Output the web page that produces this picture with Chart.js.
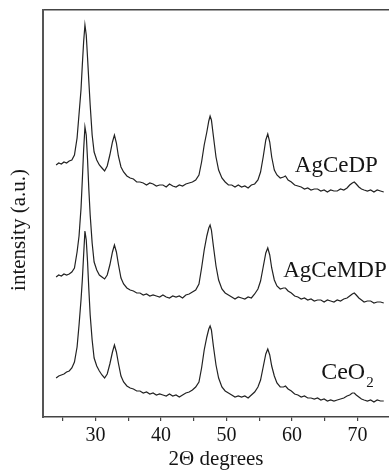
<!DOCTYPE html>
<html>
<head>
<meta charset="utf-8">
<script src="https://cdn.jsdelivr.net/npm/chart.js@4.4.1/dist/chart.umd.min.js"></script>
<style>
  html, body { margin: 0; padding: 0; background: #fff; }
  #wrap { width: 389px; height: 472px; position: relative; }
</style>
</head>
<body>
<div id="wrap"><canvas id="xrd"></canvas></div>
<script>
// 2-theta positions shared by all three patterns
const twoTheta = [
  24.0, 24.4, 24.8, 25.2, 25.6, 26.0, 26.4, 26.8, 27.2, 27.5,
  27.8, 28.0, 28.2, 28.4, 28.6, 28.8, 29.0, 29.2, 29.5, 29.8,
  30.2, 30.6, 31.0, 31.4, 31.8, 32.2, 32.6, 32.9, 33.2, 33.5,
  33.9, 34.3, 34.8, 35.3, 35.8, 36.3, 36.8, 37.3, 37.8, 38.3,
  38.8, 39.3, 39.8, 40.3, 40.8, 41.3, 41.8, 42.3, 42.8, 43.3,
  43.8, 44.3, 44.8, 45.3, 45.8, 46.2, 46.6, 47.0, 47.3, 47.5,
  47.7, 48.0, 48.4, 48.8, 49.3, 49.8, 50.3, 50.8, 51.3, 51.8,
  52.3, 52.8, 53.3, 53.8, 54.3, 54.8, 55.2, 55.6, 56.0, 56.3,
  56.6, 56.9, 57.3, 57.7, 58.2, 58.7, 59.0, 59.4, 59.9, 60.4,
  60.9, 61.4, 61.9, 62.4, 62.9, 63.4, 63.9, 64.4, 64.9, 65.4,
  65.9, 66.4, 66.9, 67.4, 67.9, 68.4, 68.8, 69.2, 69.5, 69.8,
  70.2, 70.6, 71.0, 71.5, 72.0, 72.5, 73.0, 73.5, 74.0,
];

// intensities (a.u.), already stacked with their offsets
const agCeDP = [
  252, 254, 253, 255, 254, 256, 257, 262, 279, 303,
  327, 352, 375, 392, 382, 359, 335, 312, 282, 265,
  257, 252, 249, 246, 251, 262, 275, 282, 274, 261,
  250, 245, 241, 239, 238, 235, 235, 234, 232, 234,
  233, 231, 232, 232, 230, 233, 231, 230, 232, 231,
  233, 234, 235, 237, 242, 255, 272, 285, 296, 301,
  297, 281, 260, 247, 239, 235, 232, 232, 230, 232,
  230, 231, 229, 232, 233, 237, 245, 260, 277, 283,
  275, 260, 247, 242, 239, 240, 241, 237, 235, 232,
  231, 230, 228, 229, 227, 228, 228, 226, 227, 225,
  227, 226, 226, 228, 227, 229, 232, 234, 235, 233,
  230, 228, 227, 226, 227, 225, 227, 226, 225,
];

const agCeMDP = [
  140, 142, 141, 143, 142, 143, 145, 149, 165, 181,
  209, 237, 267, 290, 282, 257, 227, 202, 174, 155,
  147, 142, 140, 138, 142, 152, 165, 172, 165, 153,
  139, 133, 129, 127, 126, 124, 124, 122, 123, 121,
  122, 121, 120, 122, 120, 119, 121, 120, 121, 119,
  122, 123, 125, 127, 133, 149, 167, 181, 189, 192,
  187, 171, 151, 137, 128, 124, 122, 120, 118, 120,
  119, 118, 120, 119, 123, 128, 136, 150, 164, 169,
  162, 149, 137, 131, 128, 129, 129, 126, 124, 121,
  120, 118, 119, 117, 118, 116, 117, 117, 115, 117,
  116, 115, 117, 116, 118, 119, 121, 123, 124, 122,
  119, 117, 115, 116, 116, 114, 115, 115, 114,
];

const ceO2 = [
  39, 41, 42, 43, 45, 46, 49, 55, 70, 92,
  117, 137, 162, 186, 177, 155, 127, 102, 77, 59,
  51, 46, 42, 39, 43, 53, 65, 72, 65, 54,
  41, 35, 31, 29, 28, 26, 26, 24, 25, 23,
  24, 22, 23, 22, 21, 23, 21, 22, 20, 22,
  24, 25, 27, 30, 35, 49, 67, 80, 88, 91,
  87, 71, 52, 39, 30, 26, 24, 22, 20, 21,
  20, 21, 19, 22, 25, 30, 37, 50, 63, 68,
  62, 51, 41, 34, 30, 30, 31, 28, 26, 23,
  22, 20, 21, 19, 19, 18, 19, 17, 18, 16,
  17, 16, 17, 18, 19, 21, 22, 24, 24, 22,
  20, 18, 17, 16, 17, 15, 17, 16, 16,
];

const xTickValues = [25, 30, 35, 40, 45, 50, 55, 60, 65, 70];
const seriesNames = ["AgCeDP", "AgCeMDP", "CeO2"];

const SERIF = "'Liberation Serif', 'Times New Roman', serif";
const LINE = "#222";

function toPoints(values) {
  return twoTheta.map((t, i) => ({ x: t, y: values[i] }));
}

// text drawn over the plot: trace names and the rotated y title
const plotText = {
  id: "plotText",
  afterDraw(chart) {
    const { ctx, scales: { x, y } } = chart;
    ctx.save();
    ctx.fillStyle = "#151515";
    ctx.textBaseline = "alphabetic";

    ctx.font = `23px ${SERIF}`;
    ctx.textAlign = "right";
    ctx.fillText(seriesNames[0], x.getPixelForValue(73.1), y.getPixelForValue(245));
    ctx.fillText(seriesNames[1], x.getPixelForValue(74.45), y.getPixelForValue(140));

    ctx.textAlign = "left";
    ctx.font = `24px ${SERIF}`;
    const ceX = x.getPixelForValue(64.45);
    ctx.fillText("CeO", ceX, y.getPixelForValue(38));
    const w = ctx.measureText("CeO").width;
    ctx.font = `15px ${SERIF}`;
    ctx.fillText("2", ceX + w + 1, y.getPixelForValue(30));

    ctx.translate(19, y.getPixelForValue(187));
    ctx.rotate(-Math.PI / 2);
    ctx.textAlign = "center";
    ctx.textBaseline = "middle";
    ctx.font = `21px ${SERIF}`;
    ctx.fillText("intensity (a.u.)", 0, 0);
    ctx.restore();
  },
};

new Chart(document.getElementById("xrd"), {
  type: "line",
  data: {
    datasets: [agCeDP, agCeMDP, ceO2].map((vals, i) => ({
      label: seriesNames[i],
      data: toPoints(vals),
      borderColor: LINE,
      borderWidth: 1.2,
      pointRadius: 0,
      tension: 0,
      fill: false,
    })),
  },
  options: {
    responsive: true,
    maintainAspectRatio: false,
    animation: false,
    layout: { padding: { top: 10, right: 0, left: 0, bottom: 0 } },
    plugins: {
      legend: { display: false },
      tooltip: { enabled: false },
    },
    scales: {
      x: {
        type: "linear",
        position: "bottom",
        min: 22,
        max: 74.8,
        afterBuildTicks: (scale) => {
          scale.ticks = xTickValues.map((v) => ({ value: v }));
        },
        afterFit: (scale) => {
          scale.height = 55;
        },
        ticks: {
          autoSkip: false,
          maxRotation: 0,
          padding: 3,
          color: "#151515",
          font: { family: SERIF, size: 20 },
          callback: (v) => (v % 10 === 0 ? String(v) : ""),
        },
        grid: {
          drawOnChartArea: false,
          drawTicks: true,
          tickLength: 4,
          color: "#444",
          lineWidth: 1.2,
        },
        border: { display: true, color: "#444", width: 1.5 },
        title: {
          display: true,
          text: "2Θ degrees",
          color: "#151515",
          font: { family: SERIF, size: 21 },
          padding: { top: 0, bottom: 0 },
        },
      },
      x2: {
        type: "linear",
        position: "top",
        min: 22,
        max: 74.8,
        afterFit: (scale) => {
          scale.height = 0;
        },
        ticks: { display: false },
        grid: { display: false },
        border: { display: true, color: "#444", width: 1.5 },
      },
      y: {
        min: 0,
        max: 407,
        afterFit: (scale) => {
          scale.width = 43;
        },
        ticks: { display: false },
        grid: { display: false },
        border: { display: true, color: "#555", width: 2 },
      },
    },
  },
  plugins: [plotText],
});
</script>
</body>
</html>
